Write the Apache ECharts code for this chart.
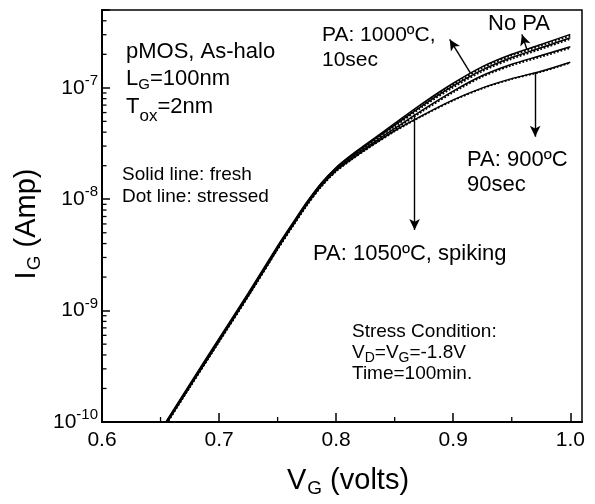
<!DOCTYPE html>
<html>
<head>
<meta charset="utf-8">
<script src="https://cdn.jsdelivr.net/npm/echarts@6/dist/echarts.min.js"></script>
<style>
  html, body { margin: 0; padding: 0; background: #fff; }
  #chart { width: 595px; height: 504px; }
</style>
</head>
<body>
<div id="chart"></div>
<script>
// Gate voltage grid (V)
const vg = [0.655, 0.675, 0.70, 0.725, 0.75, 0.7625, 0.775, 0.7875, 0.80, 0.8125, 0.825, 0.85, 0.875, 0.90, 0.925, 0.95, 0.975, 1.0];

// Gate current I_G (A): solid = fresh, dotted = stressed
const noPaFresh      = [1.00e-10, 2.14e-10, 5.50e-10, 1.41e-9, 3.72e-9, 5.89e-9, 9.33e-9, 1.40e-8, 1.93e-8, 2.48e-8, 3.09e-8, 4.79e-8, 7.41e-8, 1.10e-7, 1.55e-7, 2.00e-7, 2.45e-7, 3.02e-7];
const noPaStressed   = [0.97e-10, 2.08e-10, 5.35e-10, 1.37e-9, 3.62e-9, 5.73e-9, 9.08e-9, 1.36e-8, 1.88e-8, 2.41e-8, 3.01e-8, 4.66e-8, 7.21e-8, 1.07e-7, 1.51e-7, 1.95e-7, 2.38e-7, 2.94e-7];
const pa1000Fresh    = [1.02e-10, 2.19e-10, 5.63e-10, 1.44e-9, 3.81e-9, 6.03e-9, 9.44e-9, 1.40e-8, 1.91e-8, 2.43e-8, 3.02e-8, 4.63e-8, 7.08e-8, 1.04e-7, 1.45e-7, 1.87e-7, 2.29e-7, 2.82e-7];
const pa1000Stressed = [0.99e-10, 2.13e-10, 5.48e-10, 1.40e-9, 3.71e-9, 5.87e-9, 9.19e-9, 1.36e-8, 1.86e-8, 2.36e-8, 2.94e-8, 4.50e-8, 6.89e-8, 1.01e-7, 1.41e-7, 1.82e-7, 2.23e-7, 2.74e-7];
const pa1050Fresh    = [0.99e-10, 2.12e-10, 5.44e-10, 1.39e-9, 3.68e-9, 5.82e-9, 9.12e-9, 1.35e-8, 1.84e-8, 2.34e-8, 2.88e-8, 4.32e-8, 6.45e-8, 9.36e-8, 1.29e-7, 1.63e-7, 1.95e-7, 2.34e-7];
const pa1050Stressed = [0.96e-10, 2.06e-10, 5.29e-10, 1.35e-9, 3.58e-9, 5.66e-9, 8.87e-9, 1.31e-8, 1.79e-8, 2.28e-8, 2.80e-8, 4.20e-8, 6.28e-8, 9.11e-8, 1.26e-7, 1.59e-7, 1.90e-7, 2.28e-7];
const pa900Fresh     = [0.97e-10, 2.07e-10, 5.31e-10, 1.36e-9, 3.59e-9, 5.69e-9, 8.91e-9, 1.32e-8, 1.80e-8, 2.26e-8, 2.79e-8, 4.12e-8, 5.75e-8, 7.79e-8, 1.00e-7, 1.21e-7, 1.41e-7, 1.70e-7];
const pa900Stressed  = [0.96e-10, 2.05e-10, 5.25e-10, 1.35e-9, 3.55e-9, 5.63e-9, 8.81e-9, 1.31e-8, 1.78e-8, 2.24e-8, 2.76e-8, 4.07e-8, 5.69e-8, 7.70e-8, 9.89e-8, 1.20e-7, 1.39e-7, 1.68e-7];

// Axis ranges and minor tick positions
const xRange = [0.6, 1.01];
const yRange = [1e-10, 5e-7];
const xMinorTicks = [0.65, 0.75, 0.85, 0.95];
const yDecades = [1e-10, 1e-9, 1e-8, 1e-7];
const yMinorMultipliers = [2, 3, 4, 5, 6, 7, 8, 9];

// Annotation arrows: [tail on curve, arrow head] in (V, A)
const arrowNoPa = [[0.963, 2.2e-7], [0.9587, 3.02e-7]];
const arrow1000 = [[0.9146, 1.36e-7], [0.897, 2.72e-7]];
const arrow900  = [[0.970, 1.37e-7], [0.970, 3.64e-8]];
const arrow1050 = [[0.867, 5.8e-8], [0.867, 5.3e-9]];

const FONT = '"Liberation Sans", Arial, Helvetica, sans-serif';

const pair = arr => vg.map((v, i) => [v, arr[i]]);

function curve(name, arr, dotted) {
  return {
    name: name,
    type: 'line',
    data: pair(arr),
    smooth: 0.3,
    symbol: 'none',
    silent: true,
    lineStyle: { color: '#000', width: dotted ? 1.8 : 1.5, type: dotted ? 'dotted' : 'solid' }
  };
}

// minor tick marks drawn through the axes' own scales
const tickData = [];
yDecades.forEach(d => yMinorMultipliers.forEach(m => {
  const v = d * m;
  if (v <= yRange[1] * 1.0001) tickData.push([xRange[0], v, 0]);
}));
xMinorTicks.forEach(v => tickData.push([v, yRange[0], 1]));

const chart = echarts.init(document.getElementById('chart'), null, { renderer: 'canvas' });

const arrowLine = a => [{ coord: a[0] }, { coord: a[1] }];

function label(x, y, text, size) {
  return { type: 'text', x: x, y: y, style: { text: text, fontSize: size, fontFamily: FONT, fill: '#000', verticalAlign: 'middle' } };
}

function subLabel(x, y, text, size, subSize, drop) {
  return {
    type: 'text', x: x, y: y,
    style: {
      text: text, verticalAlign: 'middle',
      rich: {
        a: { fontSize: size, fontFamily: FONT, fill: '#000' },
        g: { fontSize: subSize, fontFamily: FONT, fill: '#000', padding: [drop, 0, 0, 0] }
      }
    }
  };
}

const option = {
  animation: false,
  backgroundColor: '#fff',
  grid: { left: 102, right: 13, top: 10, bottom: 82, show: true, borderColor: '#000', borderWidth: 1.5 },
  xAxis: {
    type: 'value',
    min: xRange[0],
    max: xRange[1],
    interval: 0.1,
    splitLine: { show: false },
    axisLine: { lineStyle: { color: '#000', width: 2 } },
    axisTick: { inside: true, length: 9, lineStyle: { color: '#000', width: 1.5 } },
    axisLabel: {
      margin: 8,
      color: '#000',
      fontFamily: FONT,
      fontSize: 21,
      showMaxLabel: false,
      formatter: v => {
        const r = Math.round(v * 10) / 10;
        return Math.abs(v - r) < 1e-9 ? r.toFixed(1) : '';
      }
    }
  },
  yAxis: {
    type: 'log',
    logBase: 10,
    min: yRange[0],
    max: yRange[1],
    splitLine: { show: false },
    axisLine: { lineStyle: { color: '#000', width: 2 } },
    axisTick: { inside: true, length: 8, lineStyle: { color: '#000', width: 1.5 } },
    axisLabel: {
      margin: 4,
      color: '#000',
      fontFamily: FONT,
      formatter: v => {
        const e = Math.log10(v);
        const r = Math.round(e);
        return Math.abs(e - r) < 1e-6 ? '{b|10}{s|' + r + '}' : '';
      },
      rich: {
        b: { fontSize: 21, fontFamily: FONT, color: '#000' },
        s: { fontSize: 15, fontFamily: FONT, color: '#000', padding: [0, 0, 14, 0] }
      }
    }
  },
  series: [
    Object.assign(curve('No PA fresh', noPaFresh, false), {
      markLine: {
        silent: true,
        symbol: ['none', 'arrow'],
        symbolSize: [8, 11],
        label: { show: false },
        lineStyle: { color: '#000', width: 1.4, type: 'solid' },
        data: [arrowLine(arrowNoPa), arrowLine(arrow1000), arrowLine(arrow900), arrowLine(arrow1050)]
      }
    }),
    curve('No PA stressed', noPaStressed, true),
    curve('PA 1000C fresh', pa1000Fresh, false),
    curve('PA 1000C stressed', pa1000Stressed, true),
    curve('PA 1050C fresh', pa1050Fresh, false),
    curve('PA 1050C stressed', pa1050Stressed, true),
    curve('PA 900C fresh', pa900Fresh, false),
    curve('PA 900C stressed', pa900Stressed, true),
    {
      name: 'minor ticks',
      type: 'custom',
      silent: true,
      clip: false,
      data: tickData,
      renderItem: (params, api) => {
        const p = api.coord([api.value(0), api.value(1)]);
        const kind = api.value(2);
        const shape = kind === 0
          ? { x1: p[0], y1: p[1], x2: p[0] + 4.5, y2: p[1] }
          : { x1: p[0], y1: p[1], x2: p[0], y2: p[1] - 5 };
        return { type: 'line', shape: shape, style: { stroke: '#000', lineWidth: 1.3 } };
      }
    }
  ],
  graphic: [
    // axis titles
    {
      type: 'text', x: 348, y: 481,
      style: {
        text: '{a|V}{g|G}{a| (volts)}', align: 'center', verticalAlign: 'middle',
        rich: {
          a: { fontSize: 29, fontFamily: FONT, fill: '#000' },
          g: { fontSize: 19, fontFamily: FONT, fill: '#000', padding: [16, 0, 0, 1] }
        }
      }
    },
    {
      type: 'text', x: 27, y: 224, rotation: Math.PI / 2,
      style: {
        text: '{a|I}{g|G}{a| (Amp)}', align: 'center', verticalAlign: 'middle',
        rich: {
          a: { fontSize: 29, fontFamily: FONT, fill: '#000' },
          g: { fontSize: 19, fontFamily: FONT, fill: '#000', padding: [16, 0, 0, 1] }
        }
      }
    },
    // device description
    label(126, 52, 'pMOS, As-halo', 22),
    subLabel(126, 79, '{a|L}{g|G}{a|=100nm}', 22, 15, 12),
    subLabel(126, 107, '{a|T}{g|ox}{a|=2nm}', 22, 17, 18),
    label(122, 175, 'Solid line: fresh', 19),
    label(122, 197, 'Dot line: stressed', 19),
    // curve labels
    label(322, 35, 'PA: 1000ºC,', 21),
    label(322, 60, '10sec', 21),
    label(488, 24, 'No PA', 22),
    label(467, 160, 'PA: 900ºC', 22),
    label(467, 185, '90sec', 22),
    label(313, 254, 'PA: 1050ºC, spiking', 22),
    // stress condition
    label(352, 332, 'Stress Condition:', 19),
    subLabel(352, 353, '{a|V}{g|D}{a|=V}{g|G}{a|=-1.8V}', 19, 14, 11),
    label(352, 374, 'Time=100min.', 19)
  ]
};

chart.setOption(option);
</script>
</body>
</html>
